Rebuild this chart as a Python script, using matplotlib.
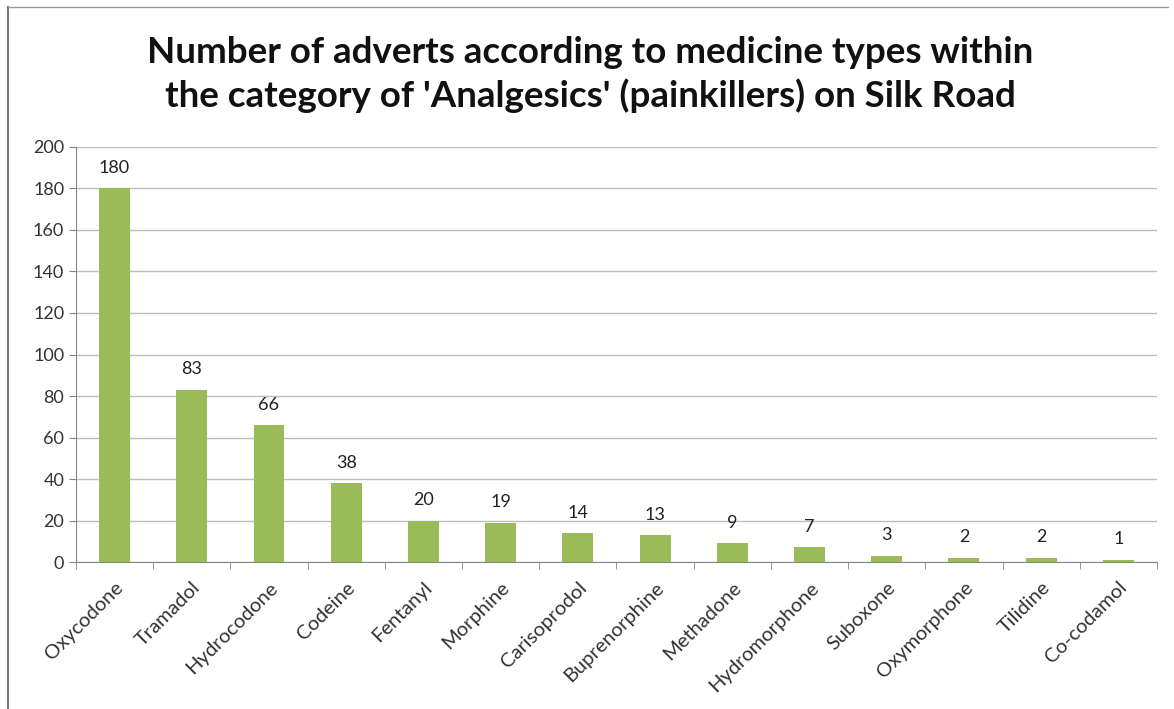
import numpy as np
import matplotlib.pyplot as plt

medicines = ['Oxycodone', 'Tramadol', 'Hydrocodone', 'Codeine', 'Fentanyl',
             'Morphine', 'Carisoprodol', 'Buprenorphine', 'Methadone',
             'Hydromorphone', 'Suboxone', 'Oxymorphone', 'Tilidine', 'Co-codamol']
adverts = [180, 83, 66, 38, 20, 19, 14, 13, 9, 7, 3, 2, 2, 1]
yticks = [0, 20, 40, 60, 80, 100, 120, 140, 160, 180, 200]

plt.rcParams['font.family'] = ['Lato', 'DejaVu Sans']

fig = plt.figure(figsize=(11.74, 7.09), dpi=100)
ax = fig.add_axes([0.0647, 0.2073, 0.9208, 0.5854])

x = np.arange(len(medicines))
ax.bar(x, adverts, width=0.4, color='#9BBB59', zorder=3)
for xi, v in zip(x, adverts):
    ax.text(xi, v + 6, str(v), ha='center', va='bottom', fontsize=13, color='#222222')

ax.set_xlim(-0.5, len(medicines) - 0.5)
ax.set_ylim(0, 200)
ax.set_yticks(yticks)
ax.tick_params(axis='y', labelsize=13, colors='#333333', length=5, color='#868686')
ax.yaxis.grid(True, color='#BDBDBD', linewidth=1, zorder=0)

ax.set_xticks(x)
ax.set_xticklabels(medicines, rotation=45, ha='right', rotation_mode='anchor',
                   fontsize=14.5, color='#333333')
ax.tick_params(axis='x', length=0, pad=12)
ax.set_xticks(np.arange(len(medicines) + 1) - 0.5, minor=True)
ax.tick_params(axis='x', which='minor', length=5, color='#868686')

for s in ['top', 'right']:
    ax.spines[s].set_visible(False)
ax.spines['left'].set_color('#868686')
ax.spines['bottom'].set_color('#868686')

fig.text(0.503, 0.895, "Number of adverts according to medicine types within\n"
         "the category of 'Analgesics' (painkillers) on Silk Road",
         ha='center', va='center', fontsize=26.5, fontweight='bold',
         linespacing=1.3, color='#111111')

# frame of the chart area
fig.add_artist(plt.Line2D([0.007, 0.007], [0, 0.99], color='#777777', lw=1.5))
fig.add_artist(plt.Line2D([0.007, 0.995], [0.99, 0.99], color='#999999', lw=1))

fig.savefig('out.png', dpi=100)
